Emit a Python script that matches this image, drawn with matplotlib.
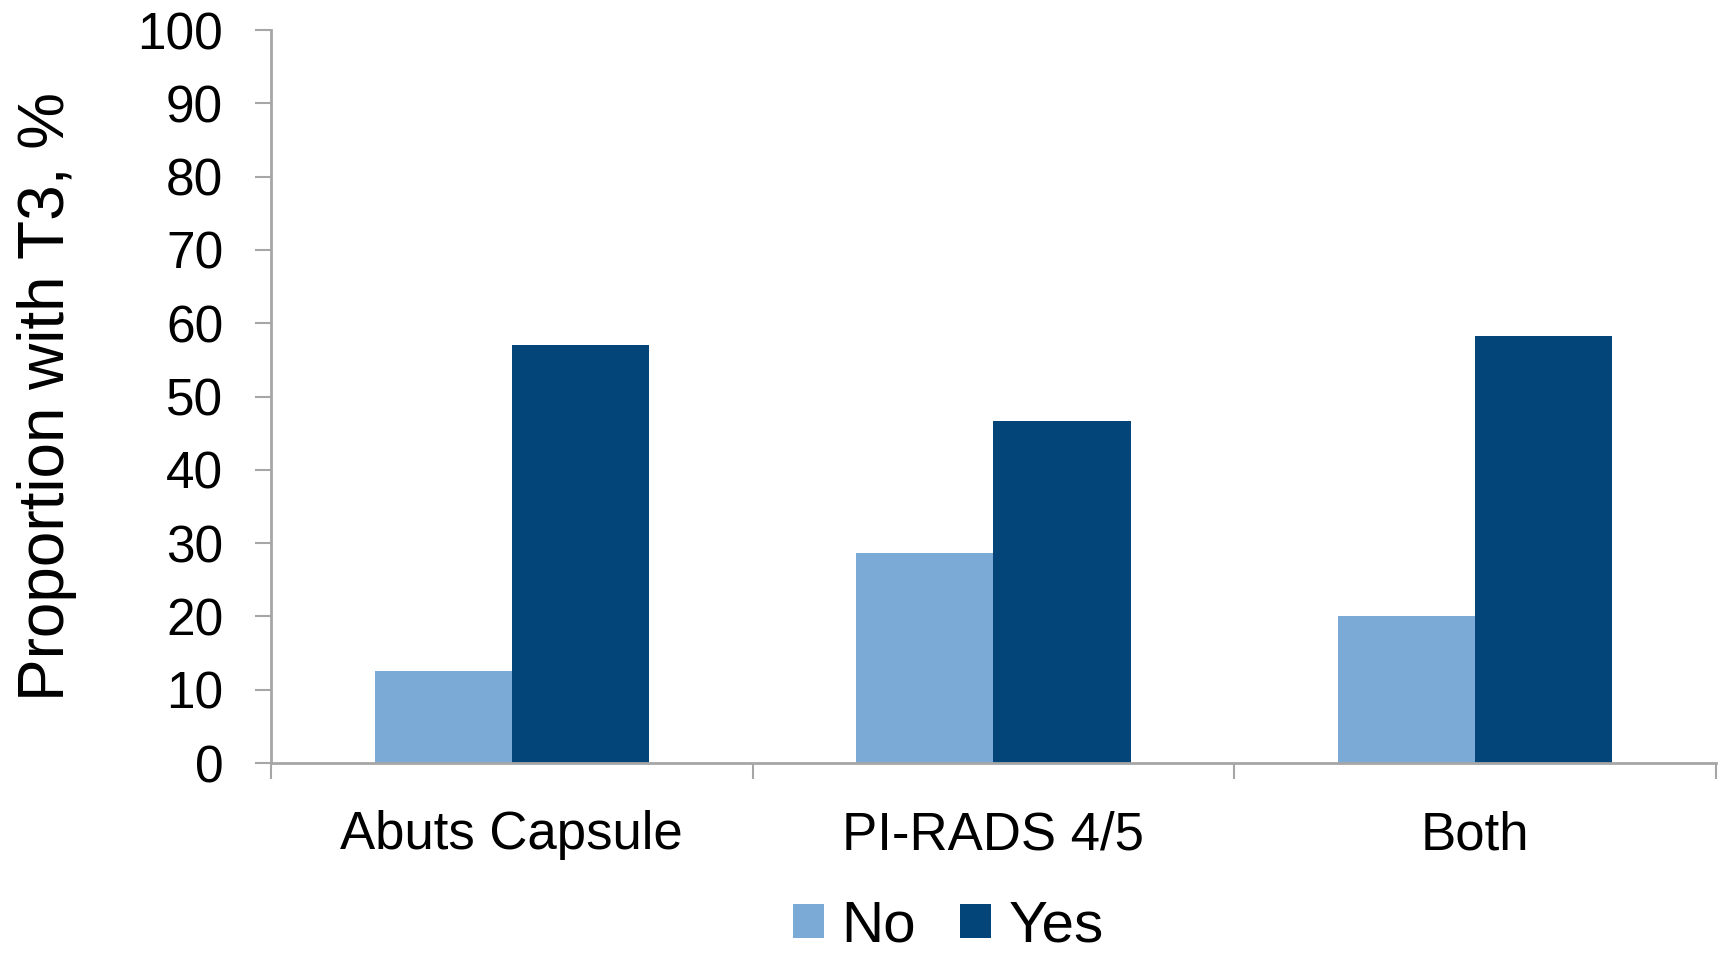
import matplotlib
matplotlib.use('Agg')
import matplotlib.pyplot as plt
import numpy as np

plt.rcParams['font.family'] = ['Liberation Sans', 'DejaVu Sans']

categories = ['Abuts Capsule', 'PI-RADS 4/5', 'Both']
no_vals = [12.5, 28.6, 20.1]
yes_vals = [57.0, 46.7, 58.2]
series_names = ['No', 'Yes']
yticks = list(range(0, 101, 10))

c_no = '#7aaad5'
c_yes = '#034479'
grey = '#a6a6a6'

fig = plt.figure(figsize=(17.21, 9.56), dpi=100)
ax = fig.add_axes([0.1575, 0.2018, 0.8395, 0.7668])

x = np.arange(len(categories))
w = 0.285
ax.bar(x - w/2, no_vals, w, color=c_no, label=series_names[0])
ax.bar(x + w/2, yes_vals, w, color=c_yes, label=series_names[1])

ax.set_xlim(-0.5, len(categories) - 0.5)
ax.set_ylim(0, 100)
ax.set_yticks(yticks)
ax.set_xticks(x)
ax.set_xticklabels(categories, fontsize=38)
ax.set_xticks(np.arange(len(categories) + 1) - 0.5, minor=True)
ax.tick_params(axis='x', which='major', length=0, pad=34)
ax.tick_params(axis='x', which='minor', length=11.5, width=1.5, color=grey)
ax.tick_params(axis='y', labelsize=37, length=11.5, width=1.5, color=grey, pad=23)

for s in ['top', 'right']:
    ax.spines[s].set_visible(False)
for s in ['left', 'bottom']:
    ax.spines[s].set_color(grey)
    ax.spines[s].set_linewidth(2)

ax.set_ylabel('Proportion with T3, %', fontsize=46)
ax.yaxis.set_label_coords(-0.134, 0.5)

fig.legend(loc='center', bbox_to_anchor=(0.551, 0.031), ncol=2, frameon=False,
           fontsize=42, handlelength=0.53, handleheight=0.53, handletextpad=0.3,
           columnspacing=0.75, borderpad=0.1)

fig.savefig('out.png', dpi=100)
